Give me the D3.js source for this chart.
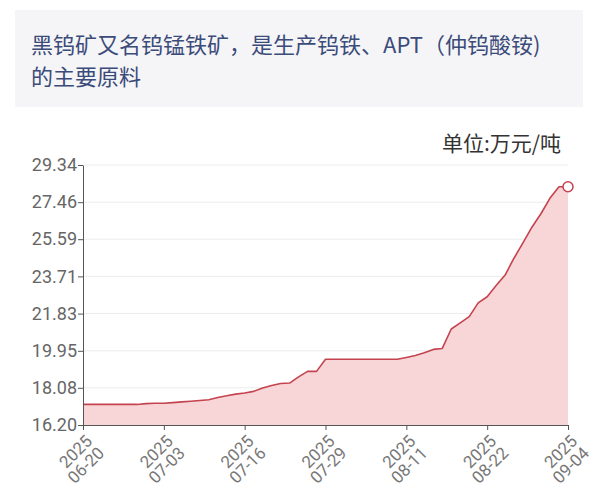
<!DOCTYPE html>
<html><head><meta charset="utf-8">
<script src="https://cdn.jsdelivr.net/npm/d3@7/dist/d3.min.js"></script>
<style>
html,body{margin:0;padding:0;background:#fff;}
svg{display:block;font-family:Roboto,"Noto Sans CJK SC",sans-serif;}
</style></head>
<body>
<script>
const titleLines = ["黑钨矿又名钨锰铁矿，是生产钨铁、APT（仲钨酸铵)", "的主要原料"];
const unitLabel = "单位:万元/吨";
const dates = ["06-20","06-23","06-24","06-25","06-26","06-27","06-30","07-01","07-02","07-03",
"07-04","07-07","07-08","07-09","07-10","07-11","07-14","07-15","07-16","07-17",
"07-18","07-21","07-22","07-23","07-24","07-25","07-28","07-29","07-30","07-31",
"08-01","08-04","08-05","08-06","08-07","08-08","08-11","08-12","08-13","08-14",
"08-15","08-18","08-19","08-20","08-21","08-22","08-25","08-26","08-27","08-28",
"08-29","09-01","09-02","09-03","09-04"];
const prices = [17.24,17.24,17.24,17.24,17.24,17.24,17.24,17.28,17.30,17.30,
17.33,17.37,17.40,17.44,17.48,17.59,17.68,17.76,17.82,17.90,
18.07,18.20,18.30,18.32,18.63,18.91,18.91,19.52,19.52,19.52,
19.52,19.52,19.52,19.52,19.52,19.52,19.61,19.71,19.85,20.02,
20.07,21.05,21.36,21.68,22.37,22.68,23.25,23.78,24.64,25.42,
26.21,26.89,27.67,28.24,28.24];
const yTicks = [16.20,18.08,19.95,21.83,23.71,25.59,27.46,29.34];
const xTickDates = ["06-20","07-03","07-16","07-29","08-11","08-22","09-04"];
const year = "2025";

const W = 599, H = 500;
const svg = d3.select("body").append("svg").attr("width", W).attr("height", H);

// title box
svg.append("rect").attr("x",15).attr("y",10).attr("width",568).attr("height",97).attr("fill","#f5f5f7");
svg.append("g").selectAll("text").data(titleLines).join("text")
  .attr("x",31).attr("y",(d,i)=>53+i*32)
  .attr("font-size",22).attr("fill","#3b4b7a")
  .attr("font-family","'Noto Sans CJK SC',sans-serif")
  .text(d=>d);

svg.append("text").attr("x",561).attr("y",151).attr("text-anchor","end")
  .attr("font-size",21).attr("fill","#333")
  .attr("font-family","'Noto Sans CJK SC',sans-serif")
  .text(unitLabel);

const x = d3.scalePoint().domain(dates).range([83,568]);
const y = d3.scaleLinear().domain([16.20,29.34]).range([425,165]);

// gridlines
svg.append("g").selectAll("line").data(yTicks.slice(1)).join("line")
  .attr("x1",84).attr("x2",568).attr("y1",d=>y(d)).attr("y2",d=>y(d))
  .attr("stroke","#ececec").attr("stroke-width",1);

// area & line
const data = dates.map((d,i)=>({d, v:prices[i]}));
svg.append("path").datum(data)
  .attr("fill","#f8d5d7")
  .attr("d", d3.area().x(p=>x(p.d)).y0(y(16.20)).y1(p=>y(p.v)));
svg.append("path").datum(data)
  .attr("fill","none").attr("stroke","#c4434e").attr("stroke-width",1.6)
  .attr("stroke-linejoin","round")
  .attr("d", d3.line().x(p=>x(p.d)).y(p=>y(p.v)));
const last = data[data.length-1];
svg.append("circle").attr("cx",x(last.d)).attr("cy",y(last.v)).attr("r",5)
  .attr("fill","#fff").attr("stroke","#c4434e").attr("stroke-width",1.5);

// y axis
const yAxis = d3.axisLeft(y).tickValues(yTicks).tickFormat(d3.format(".2f")).tickSize(5).tickSizeOuter(0);
const gy = svg.append("g").attr("transform","translate(83,0)").call(yAxis);
gy.select(".domain").attr("stroke","#555");
gy.selectAll(".tick line").attr("stroke","#555");
gy.selectAll(".tick text").attr("font-size",18).attr("fill","#666").attr("x",-6)
  .attr("font-family","Roboto,sans-serif");

// x axis
const xAxis = d3.axisBottom(x).tickValues(xTickDates).tickSize(5).tickSizeOuter(0).tickFormat("");
const gx = svg.append("g").attr("transform","translate(0,425)").call(xAxis);
gx.select(".domain").attr("stroke","#555");
gx.selectAll(".tick line").attr("stroke","#555");
const lab = svg.append("g").selectAll("g").data(xTickDates).join("g")
  .attr("transform",d=>`translate(${x(d)+6},${438}) rotate(-45)`);
const t = lab.append("text").attr("text-anchor","end").attr("font-size",17).attr("fill","#777")
  .attr("font-family","Roboto,sans-serif");
t.append("tspan").attr("x",0).attr("dy","0.35em").text(year);
t.append("tspan").attr("x",0).attr("dy","1.0em").text(d=>d);
</script>
</body></html>
